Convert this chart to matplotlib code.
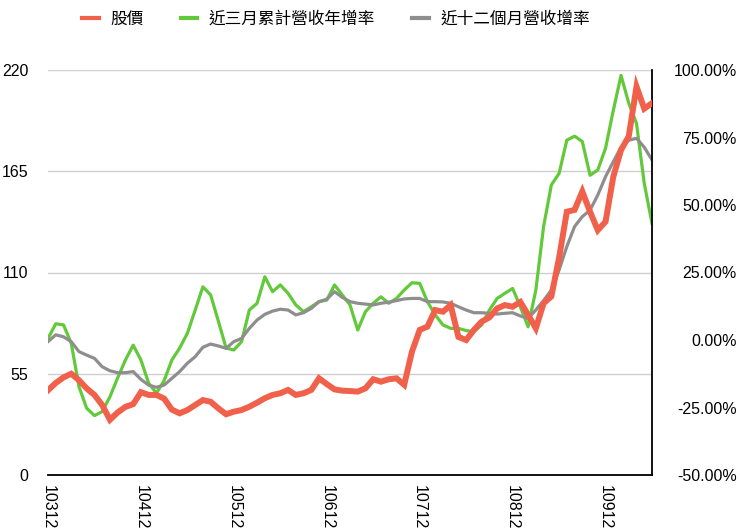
import matplotlib
matplotlib.use("Agg")
import matplotlib.pyplot as plt
from matplotlib.ticker import FuncFormatter

plt.rcParams['font.family'] = ['Liberation Sans', 'Noto Sans CJK TC', 'DejaVu Sans']

# months from 10312 to 11006 (ROC year + month)
months = []
for y in range(103, 111):
    for m in range(1, 13):
        months.append(f"{y}{m:02d}")
months = months[months.index("10312"):months.index("11006") + 1]

tick_labels = ["10312", "10412", "10512", "10612", "10712", "10812", "10912"]

# stock price (left axis)
price = [46, 50, 53, 55, 51.5, 47, 43.5, 38, 30, 34,
         37, 38.5, 45, 43.5, 43.5, 41.5, 35.5, 33.5, 35.3, 38,
         40.7, 39.8, 36.2, 33, 34.4, 35.3, 37.1, 39.3, 41.7, 43.5,
         44.4, 46.2, 43.5, 44.4, 46.2, 52.5, 49.4, 46.5, 45.8, 45.6,
         45.3, 47.1, 52, 50.7, 52, 52.5, 49, 67, 78.8, 80.6,
         89.6, 88.7, 92.3, 75, 73.3, 78.8, 83.3, 85.6, 90.5, 92.3,
         91.4, 94, 87, 79.7, 93.3, 97, 118, 143, 144, 154,
         143, 133, 137.6, 162, 176.5, 184, 211, 199, 202]

# 3-month cumulative revenue YoY growth (%), right axis
rev_3m = [0.6, 6, 5.6, -1.2, -17.3, -25.3, -28, -26.5, -21, -14,
          -7.4, -1.9, -7.4, -16, -19.7, -15, -7.4, -3, 2.5, 11,
          19.7, 16.7, 7, -3, -3.7, -0.6, 11.1, 13.6, 23.4, 17.9,
          20.4, 17.3, 13, 10.5, 12.3, 14.2, 14.8, 20.4, 16.7, 13,
          3.7, 10.5, 13.6, 16, 13.6, 15.4, 18.5, 21.2, 21, 14.2,
          9.3, 5.6, 4.3, 4.3, 3.5, 3.1, 5.6, 11.1, 15.4, 17.3,
          19.1, 12.3, 4.9, 18.5, 42, 57.4, 61.7, 74, 75.5, 73.5,
          61, 63, 71, 85, 98, 87.7, 80.2, 58, 43.2]

# 12-month revenue growth (%), right axis
rev_12m = [-0.6, 1.9, 1.2, -0.6, -4.3, -5.6, -6.8, -9.9, -11.4, -12.1,
           -12.1, -11.7, -14.6, -16.7, -17.5, -16.7, -14.2, -11.7, -8.6, -6.2,
           -2.7, -1.5, -2.2, -3.1, -0.6, 0.6, 4.3, 7.4, 9.5, 10.7,
           11.4, 11.1, 9.3, 10.1, 11.7, 14.2, 15.1, 17.9, 15.8, 14.2,
           13.6, 13.3, 13, 13.6, 14, 14.6, 15.2, 15.4, 15.4, 14.2,
           14.2, 14.1, 13.6, 12.3, 11.1, 10.1, 10.1, 9.9, 9.6, 9.9,
           10.1, 8.9, 8, 11.1, 14.6, 18.5, 25.9, 34.6, 42, 45.7,
           48.1, 53.7, 60.5, 66, 71.4, 74, 74.7, 71.4, 66.7]

x = list(range(len(months)))

fig = plt.figure(figsize=(7.4, 5.3), dpi=100)
ax = fig.add_axes([48 / 740, 1 - 475 / 530, (652 - 48) / 740, (475 - 70) / 530])
ax2 = ax.twinx()
ax3 = ax.twinx()

# left axis: grid and price scale
ax.set_ylim(0, 220)
ax.set_yticks([0, 55, 110, 165, 220])
ax.grid(axis='y', color='#cfcfcf', linewidth=1)
ax.tick_params(axis='y', length=0, pad=14, labelsize=11.5)
ax.set_xlim(0, len(months) - 1)
ax.set_xticks([months.index(t) for t in tick_labels])
ax.set_xticklabels(tick_labels, rotation=-90, fontsize=11.5)
ax.tick_params(axis='x', length=0, pad=7)
for s in ['left', 'top', 'right']:
    ax.spines[s].set_visible(False)
ax.spines['bottom'].set_color('black')
ax.spines['bottom'].set_linewidth(1.3)

# right axis: growth rates
ax2.plot(x, rev_3m, color='#62c93a', linewidth=2.3, label='近三月累計營收年增率')
ax2.plot(x, rev_12m, color='#8e8e8e', linewidth=2.3, label='近十二個月營收增率')
ax2.set_ylim(-50, 100)
ax2.set_yticks([-50, -25, 0, 25, 50, 75, 100])
ax2.yaxis.set_major_formatter(FuncFormatter(lambda v, p: f"{v:.2f}%"))
ax2.tick_params(axis='y', length=0, pad=61, labelsize=11.5)
for lab in ax2.get_yticklabels():
    lab.set_horizontalalignment('right')
for s in ['left', 'top', 'bottom']:
    ax2.spines[s].set_visible(False)
ax2.spines['right'].set_color('black')
ax2.spines['right'].set_linewidth(1.3)

# price line drawn on top
ax3.plot(x, price, color='#f0604a', linewidth=4.3, solid_joinstyle='miter', label='股價')
ax3.set_ylim(0, 220)
ax3.set_yticks([])
for s in ax3.spines.values():
    s.set_visible(False)

handles = ax3.get_lines() + ax2.get_lines()
leg = fig.legend(handles, [h.get_label() for h in handles], loc='center left',
                 bbox_to_anchor=(74 / 740, 1 - 19 / 530), ncol=3, frameon=False,
                 handlelength=1.0, handletextpad=0.7, columnspacing=2.2,
                 borderpad=0, prop={'family': ['Noto Sans CJK TC'], 'size': 12})
for h in leg.get_lines():
    h.set_linewidth(3)

fig.savefig('out.png', dpi=100)
